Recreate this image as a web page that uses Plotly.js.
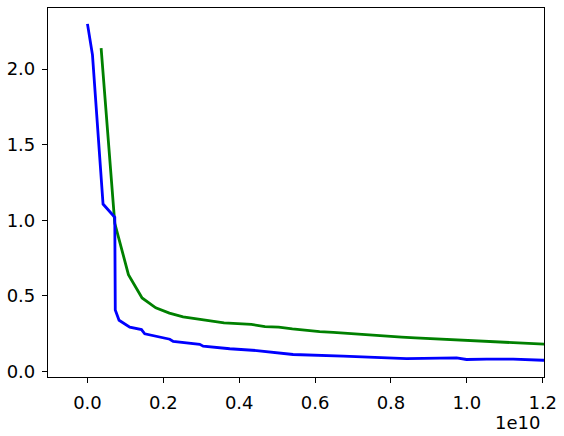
<!DOCTYPE html>
<html>
<head>
<meta charset="utf-8">
<script src="https://cdn.plot.ly/plotly-3.0.1.min.js"></script>
<style>
  html, body { margin: 0; padding: 0; background: #fff; }
  #chart { width: 564px; height: 436px; }
</style>
</head>
<body>
<div id="chart"></div>
<script>
// green curve (x in raw units, step of about 3.6e8)
var green_x = [0.036, 0.072, 0.108, 0.144, 0.180, 0.216, 0.252, 0.288, 0.324, 0.360,
  0.396, 0.432, 0.468, 0.504, 0.540, 0.576, 0.612, 0.648, 0.684, 0.720,
  0.756, 0.792, 0.828, 0.864, 0.900, 0.936, 0.972, 1.008, 1.044, 1.080,
  1.116, 1.152, 1.188, 1.224].map(function (v) { return v * 1e10 })
var green_y = [2.14, 0.98, 0.64, 0.485, 0.42, 0.385, 0.36, 0.345, 0.333, 0.32,
  0.315, 0.31, 0.296, 0.292, 0.28, 0.27, 0.262, 0.257, 0.25, 0.243,
  0.236, 0.231, 0.226, 0.221, 0.216, 0.213, 0.209, 0.205, 0.197, 0.192,
  0.188, 0.184, 0.18, 0.177]

// blue curve
var blue_x = [0.0, 0.0132, 0.0411, 0.072, 0.0733, 0.0833, 0.1116, 0.1424, 0.151, 0.185,
  0.217, 0.226, 0.296, 0.305, 0.375, 0.446, 0.507, 0.542, 0.674, 0.744,
  0.824, 0.841, 0.973, 0.999, 1.052, 1.122, 1.2007, 1.224].map(function (v) { return v * 1e10 })
var blue_y = [2.30, 2.095, 1.107, 1.02, 0.405, 0.338, 0.292, 0.276, 0.248, 0.232,
  0.212, 0.197, 0.178, 0.166, 0.149, 0.137, 0.121, 0.111, 0.10, 0.095,
  0.09, 0.084, 0.088, 0.078, 0.08, 0.08, 0.073, 0.072]

// tick labels
var x_ticks = [0, 0.2e10, 0.4e10, 0.6e10, 0.8e10, 1.0e10, 1.2e10]
var x_ticklabels = ['0.0', '0.2', '0.4', '0.6', '0.8', '1.0', '1.2']

var data = [
  { x: green_x, y: green_y, mode: 'lines', line: { color: '#008000', width: 2.8 } },
  { x: blue_x, y: blue_y, mode: 'lines', line: { color: '#0000ff', width: 2.8 } }
]

var axis_style = {
  showline: true,
  mirror: true,
  linecolor: '#000',
  linewidth: 1.2,
  showgrid: false,
  zeroline: false,
  ticks: 'outside',
  ticklen: 5,
  tickwidth: 1.2,
  tickcolor: '#000',
  tickfont: { family: 'DejaVu Sans', size: 18, color: '#000' }
}

var layout = {
  width: 564,
  height: 436,
  margin: { l: 48, r: 20, t: 8, b: 59 },
  paper_bgcolor: '#fff',
  plot_bgcolor: '#fff',
  showlegend: false,
  xaxis: Object.assign({}, axis_style, {
    range: [-0.104e10, 1.2033e10],
    tickvals: x_ticks,
    ticktext: x_ticklabels,
    ticklabelstandoff: 4
  }),
  yaxis: Object.assign({}, axis_style, {
    range: [-0.038, 2.405],
    dtick: 0.5,
    tick0: 0,
    tickformat: '.1f',
    ticklabelstandoff: 3
  }),
  annotations: [{
    text: '1e10',
    xref: 'paper', yref: 'paper',
    x: 0.996, y: -0.122,
    xanchor: 'right', yanchor: 'middle',
    showarrow: false,
    font: { family: 'DejaVu Sans', size: 18, color: '#000' }
  }]
}

Plotly.newPlot('chart', data, layout, { displayModeBar: false })
</script>
</body>
</html>
